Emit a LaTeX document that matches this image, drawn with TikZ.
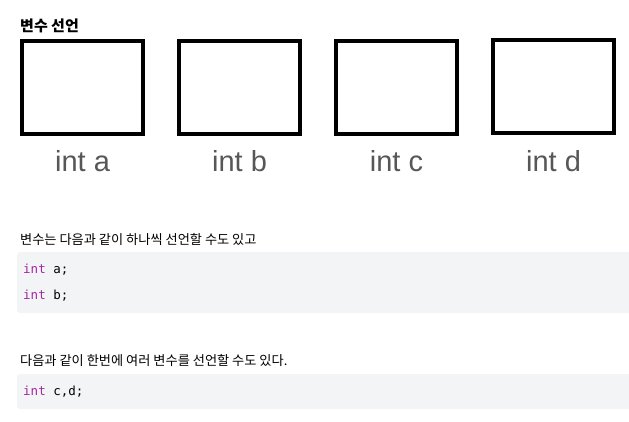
\documentclass[tikz,border=0pt]{standalone}
\usepackage{fontspec}
\usepackage{tikz}
\usetikzlibrary{positioning}
\setmainfont{Liberation Sans}
\newfontfamily\kr{Noto Sans CJK KR}
\newfontfamily\code{DejaVu Sans Mono}
\definecolor{labelgray}{HTML}{575757}
\definecolor{codebg}{HTML}{F3F4F6}
\definecolor{keyword}{HTML}{A626A4}
\newcommand{\kw}[1]{\textcolor{keyword}{#1}}

\begin{document}
\begin{tikzpicture}[
    x=1pt, y=-1pt,
    node distance=157pt,
    varbox/.style={draw, line width=4pt, minimum width=121pt, minimum height=93pt, inner sep=0pt},
    varlabel/.style={text=labelgray, font=\fontsize{29}{29}\selectfont, inner sep=0pt, node distance=74pt},
    krtext/.style={anchor=west, inner sep=0pt, font=\kr\fontsize{13.2}{15}\selectfont},
    codeblock/.style={fill=codebg, draw=none, rounded corners=3pt},
    codeline/.style={anchor=west, inner sep=0pt, font=\code\fontsize{12.5}{14}\selectfont}
    ]
    \useasboundingbox (0,0) rectangle (629,421);

    % 제목
    \node (title) [krtext, font=\kr\bfseries\fontsize{15}{17}\selectfont] at (20,26) {변수 선언};

    % 변수 상자
    \node (varA) [varbox] at (82.5,87.5) {};
    \node (varB) [varbox, right of=varA] {};
    \node (varC) [varbox, right of=varB] {};
    \node (varD) [varbox, right of=varC, yshift=1.5pt] {};

    \node (labelA) [varlabel, below of=varA] {int a};
    \node (labelB) [varlabel, below of=varB] {int b};
    \node (labelC) [varlabel, below of=varC] {int c};
    \node (labelD) [varlabel, below of=varD, yshift=-1.5pt] {int d};

    % 하나씩 선언
    \node (textOne) [krtext] at (20,239) {변수는 다음과 같이 하나씩 선언할 수도 있고};
    \fill[codeblock] (17,252) rectangle (640,313);
    \node (codeA) [codeline] at (23,270) {\kw{int} a;};
    \node (codeB) [codeline] at (23,296) {\kw{int} b;};

    % 한번에 선언
    \node (textTwo) [krtext] at (20,360) {다음과 같이 한번에 여러 변수를 선언할 수도 있다.};
    \fill[codeblock] (17,374) rectangle (640,409);
    \node (codeCD) [codeline] at (23,392) {\kw{int} c,d;};

\end{tikzpicture}
\end{document}
